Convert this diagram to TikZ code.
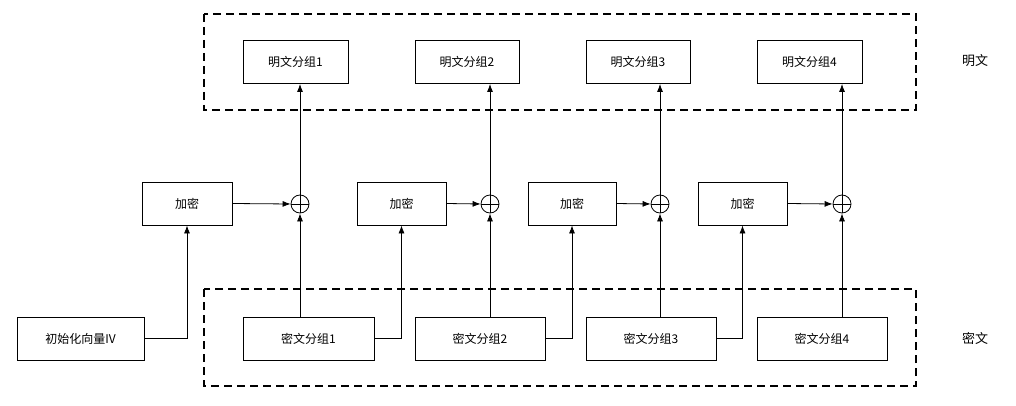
\documentclass[tikz,border=0pt]{standalone}
\usepackage{fontspec}
\newfontfamily\cjk{Noto Sans CJK SC}
\usetikzlibrary{arrows.meta}
\begin{document}
\begin{tikzpicture}[x=1pt,y=-1pt,
 box/.style={draw,line width=0.8pt,minimum height=43pt,inner sep=0pt,font=\cjk\fontsize{12}{12}\selectfont},
 grp/.style={draw,dashed,line width=1.2pt,dash pattern=on 8pt off 5pt},
 xo/.style={draw,circle,minimum size=18pt,inner sep=0pt,line width=0.8pt},
 ar/.style={-{Latex[length=8pt,width=6pt]},line width=0.8pt},
 lab/.style={font=\cjk\fontsize{13}{13}\selectfont}]
\useasboundingbox (0,0) rectangle (1016,406);
\draw[grp] (204,14) rectangle (916,110);
\draw[grp] (204,289) rectangle (916,386);
\node[lab] (lp) at (975,61) {明文};
\node[lab] (lc) at (975,338) {密文};
\node[box,minimum width=105pt] (p1) at (295.5,62) {明文分组1};
\node[box,minimum width=104pt] (p2) at (467,62) {明文分组2};
\node[box,minimum width=104pt] (p3) at (638,62) {明文分组3};
\node[box,minimum width=105pt] (p4) at (809.5,62) {明文分组4};
\node[box,minimum width=90pt] (e1) at (187,203.5) {加密};
\node[box,minimum width=89pt] (e2) at (401.5,203.5) {加密};
\node[box,minimum width=88pt] (e3) at (572,203.5) {加密};
\node[box,minimum width=89pt] (e4) at (742.5,203.5) {加密};
\node[xo] (x1) at (300,204) {};
\node[xo] (x2) at (490,204) {};
\node[xo] (x3) at (660,204) {};
\node[xo] (x4) at (842,204) {};
\foreach \i in {1,...,4}{
 \draw[line width=0.6pt] (x\i.north)--(x\i.south) (x\i.west)--(x\i.east);
 \draw[ar] (x\i.north) -- (x\i.north |- p\i.south);
 \draw[ar] (e\i.east) -- (x\i.west);
}
\node[box,minimum width=127pt] (iv) at (80.5,338.5) {初始化向量IV};
\node[box,minimum width=131pt] (c1) at (308.5,338.5) {密文分组1};
\node[box,minimum width=130pt] (c2) at (480,338.5) {密文分组2};
\node[box,minimum width=130pt] (c3) at (651,338.5) {密文分组3};
\node[box,minimum width=130pt] (c4) at (822,338.5) {密文分组4};
\foreach \i in {1,...,4}{
 \draw[ar] (x\i.south |- c\i.north) -- (x\i.south);
}
\draw[ar] (iv.east) -| (e1.south);
\draw[ar] (c1.east) -| (e2.south);
\draw[ar] (c2.east) -| (e3.south);
\draw[ar] (c3.east) -| (e4.south);
\end{tikzpicture}
\end{document}
